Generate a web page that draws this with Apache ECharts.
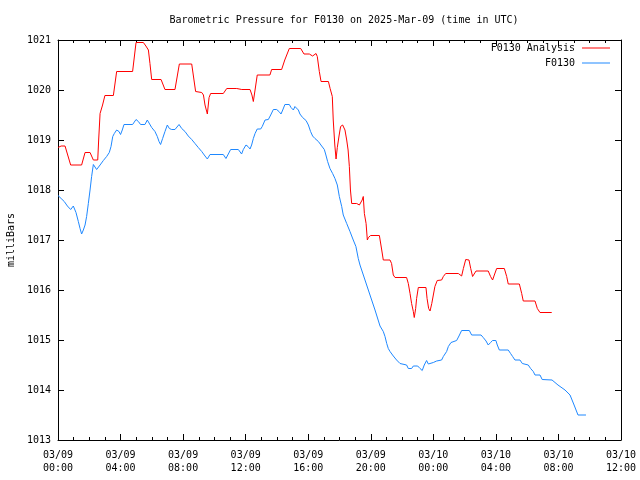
<!DOCTYPE html>
<html>
<head>
<meta charset="utf-8">
<script src="https://cdn.jsdelivr.net/npm/echarts@6/dist/echarts.min.js"></script>
<style>html,body{margin:0;padding:0;background:#fff}#c{width:640px;height:480px}</style>
</head>
<body>
<div id="c"></div>
<script>
// Hours since 2025-03-09 00:00 UTC
var xTickLabels = ['03/09\n00:00','03/09\n04:00','03/09\n08:00','03/09\n12:00','03/09\n16:00','03/09\n20:00','03/10\n00:00','03/10\n04:00','03/10\n08:00','03/10\n12:00'];

var analysisHours = [0,0.2,0.45,0.81,1.51,1.73,2.05,2.26,2.54,2.6,2.69,2.85,3.0,3.54,3.75,4.77,4.99,5.46,5.62,5.78,5.88,5.99,6.59,6.84,7.48,7.76,8.55,8.8,9.19,9.3,9.4,9.55,9.66,9.76,10.57,10.79,11.43,11.53,11.75,12.28,12.4,12.49,12.6,12.74,13.55,13.66,14.3,14.5,14.79,15.52,15.73,16.07,16.28,16.5,16.58,16.71,16.82,17.29,17.4,17.54,17.6,17.7,17.78,17.86,17.98,18.07,18.2,18.35,18.46,18.55,18.63,18.7,18.78,19.1,19.27,19.45,19.52,19.59,19.7,19.78,19.85,19.99,20.55,20.59,20.7,20.8,21.23,21.33,21.44,21.55,22.29,22.4,22.51,22.61,22.72,22.78,22.87,22.93,23.04,23.53,23.6,23.7,23.79,23.9,24.0,24.1,24.25,24.53,24.64,24.79,25.6,25.7,25.81,25.92,26.07,26.28,26.39,26.51,26.62,26.73,27.51,27.66,27.79,27.9,28.05,28.54,28.69,28.79,29.5,29.65,29.75,30.5,30.65,30.82,31.57];
var analysisValues = [1018.85,1018.88,1018.88,1018.5,1018.5,1018.75,1018.75,1018.6,1018.6,1019.0,1019.53,1019.7,1019.89,1019.89,1020.37,1020.37,1020.95,1020.95,1020.88,1020.8,1020.53,1020.21,1020.21,1020.01,1020.01,1020.52,1020.52,1019.97,1019.95,1019.9,1019.7,1019.52,1019.85,1019.93,1019.93,1020.03,1020.03,1020.05,1020.01,1020.01,1019.9,1019.77,1020.0,1020.3,1020.3,1020.41,1020.41,1020.6,1020.83,1020.83,1020.72,1020.72,1020.68,1020.73,1020.67,1020.37,1020.17,1020.17,1020.03,1019.87,1019.4,1018.9,1018.62,1018.85,1019.1,1019.27,1019.3,1019.2,1019.0,1018.8,1018.47,1018.0,1017.73,1017.73,1017.7,1017.8,1017.87,1017.53,1017.33,1017.0,1017.05,1017.09,1017.09,1017.05,1016.8,1016.6,1016.6,1016.53,1016.3,1016.25,1016.25,1016.13,1015.93,1015.73,1015.57,1015.45,1015.63,1015.83,1016.05,1016.05,1015.83,1015.63,1015.58,1015.73,1015.9,1016.07,1016.19,1016.2,1016.27,1016.33,1016.33,1016.3,1016.28,1016.43,1016.61,1016.6,1016.43,1016.27,1016.31,1016.38,1016.38,1016.27,1016.2,1016.3,1016.43,1016.43,1016.27,1016.12,1016.12,1015.93,1015.78,1015.78,1015.63,1015.55,1015.55];

var obsHours = [0,0.2,0.4,0.6,0.81,0.98,1.04,1.15,1.3,1.41,1.51,1.62,1.73,1.83,1.94,2.05,2.15,2.26,2.36,2.47,2.69,2.9,3.11,3.28,3.39,3.5,3.6,3.75,3.9,4.0,4.11,4.22,4.77,4.99,5.14,5.28,5.56,5.71,5.82,5.99,6.2,6.35,6.46,6.56,6.69,6.84,6.99,7.12,7.27,7.48,7.74,7.91,8.12,8.33,8.55,8.76,8.97,9.19,9.4,9.55,9.72,10.57,10.74,10.89,11.04,11.53,11.64,11.74,11.85,12.02,12.15,12.28,12.38,12.49,12.6,12.74,12.96,13.06,13.24,13.45,13.6,13.77,13.98,14.13,14.26,14.37,14.51,14.79,14.9,15.05,15.15,15.22,15.37,15.47,15.64,15.86,16.01,16.15,16.28,16.43,16.65,16.86,17.03,17.13,17.24,17.39,17.56,17.71,17.86,17.99,18.14,18.24,18.46,18.67,18.88,19.05,19.2,19.31,19.63,19.95,20.27,20.59,20.8,20.91,21.02,21.12,21.23,21.44,21.65,21.87,21.97,22.29,22.4,22.51,22.61,22.72,23.0,23.15,23.29,23.42,23.57,23.68,23.79,24.0,24.21,24.53,24.64,24.85,24.96,25.13,25.23,25.49,25.64,25.81,26.3,26.45,27.05,27.19,27.37,27.51,27.66,27.79,28.0,28.09,28.22,28.79,28.94,29.07,29.22,29.54,29.69,29.8,30.07,30.22,30.39,30.5,30.82,30.96,31.59,31.97,32.42,32.74,33.0,33.25,33.76];
var obsValues = [1017.89,1017.83,1017.77,1017.68,1017.61,1017.68,1017.7,1017.55,1017.37,1017.23,1017.12,1017.2,1017.3,1017.47,1017.73,1018.0,1018.27,1018.51,1018.48,1018.41,1018.5,1018.59,1018.67,1018.75,1018.87,1019.07,1019.13,1019.2,1019.17,1019.11,1019.2,1019.31,1019.31,1019.41,1019.37,1019.31,1019.31,1019.4,1019.4,1019.25,1019.17,1019.07,1018.97,1018.91,1019.03,1019.17,1019.3,1019.23,1019.21,1019.21,1019.31,1019.23,1019.17,1019.08,1019.01,1018.93,1018.85,1018.77,1018.68,1018.62,1018.71,1018.71,1018.63,1018.72,1018.81,1018.81,1018.77,1018.72,1018.81,1018.9,1018.87,1018.82,1018.9,1019.03,1019.13,1019.22,1019.22,1019.27,1019.4,1019.41,1019.5,1019.61,1019.61,1019.57,1019.52,1019.6,1019.71,1019.71,1019.65,1019.6,1019.67,1019.71,1019.6,1019.52,1019.45,1019.39,1019.3,1019.17,1019.08,1019.03,1018.97,1018.88,1018.81,1018.7,1018.57,1018.43,1018.33,1018.23,1018.1,1017.87,1017.67,1017.5,1017.33,1017.17,1017.0,1016.87,1016.63,1016.5,1016.2,1015.9,1015.6,1015.28,1015.17,1015.07,1014.93,1014.83,1014.77,1014.68,1014.6,1014.53,1014.5,1014.5,1014.43,1014.39,1014.43,1014.48,1014.48,1014.43,1014.39,1014.5,1014.59,1014.52,1014.5,1014.55,1014.58,1014.6,1014.67,1014.77,1014.87,1014.95,1014.99,1014.99,1015.08,1015.19,1015.19,1015.1,1015.1,1015.05,1014.98,1014.9,1014.95,1014.99,1014.99,1014.9,1014.8,1014.8,1014.73,1014.67,1014.6,1014.6,1014.53,1014.5,1014.5,1014.43,1014.37,1014.3,1014.3,1014.21,1014.2,1014.1,1014.0,1013.9,1013.7,1013.5,1013.5];

var FONT = 'DejaVu Sans Mono';
function pairs(xs, ys){ return xs.map(function(x,i){ return [x, ys[i]]; }); }

var chart = echarts.init(document.getElementById('c'), null, {renderer:'canvas'});
var axisLineStyle = {color:'#000', width:1};
var xCommon = {
  type:'value', min:0, max:36, interval:4,
  axisLine:{show:true, onZero:false, lineStyle:axisLineStyle},
  axisTick:{show:true, inside:true, length:6, lineStyle:axisLineStyle},
  minorTick:{show:true, splitNumber:4, length:3, lineStyle:{color:'#000', width:1}},
  splitLine:{show:false}
};
var yCommon = {
  type:'value', min:1013, max:1021, interval:1,
  axisLine:{show:true, onZero:false, lineStyle:axisLineStyle},
  axisTick:{show:true, inside:true, length:6, lineStyle:axisLineStyle},
  splitLine:{show:false}
};
chart.setOption({
  animation:false,
  backgroundColor:'#fff',
  title:{
    text:'Barometric Pressure for F0130 on 2025-Mar-09 (time in UTC)',
    left:339, top:10, textAlign:'center',
    textStyle:{fontFamily:FONT, fontSize:10, fontWeight:'normal', color:'#000'}
  },
  legend:[
    {data:['F0130 Analysis'], right:30, top:43, align:'right', orient:'vertical',
     itemWidth:28, itemHeight:1, itemGap:4, icon:'rect', padding:0,
     textStyle:{fontFamily:FONT, fontSize:10, color:'#000', padding:[0,2,0,0]}},
    {data:['F0130'], right:30, top:58, align:'right', orient:'vertical',
     itemWidth:28, itemHeight:1, itemGap:4, icon:'rect', padding:0,
     textStyle:{fontFamily:FONT, fontSize:10, color:'#000', padding:[0,2,0,0]}}
  ],
  grid:{left:58, right:19, top:40, bottom:40, containLabel:false, outerBoundsMode:'none'},
  xAxis:[
    Object.assign({}, xCommon, {position:'bottom',
      axisLabel:{show:true, margin:9, fontFamily:FONT, fontSize:10, color:'#000', lineHeight:13,
        formatter:function(v){ return xTickLabels[Math.round(v/4)] || ''; }}}),
    Object.assign({}, xCommon, {position:'top', axisLabel:{show:false}})
  ],
  yAxis:[
    Object.assign({}, yCommon, {position:'left', name:'milliBars', nameLocation:'middle', nameGap:42,
      nameRotate:90,
      nameTextStyle:{fontFamily:FONT, fontSize:10, color:'#000'},
      axisLabel:{show:true, margin:7, fontFamily:FONT, fontSize:10, color:'#000',
        formatter:function(v){ return String(v); }}}),
    Object.assign({}, yCommon, {position:'right', axisLabel:{show:false}})
  ],
  series:[
    {name:'F0130 Analysis', type:'line', xAxisIndex:0, yAxisIndex:0, showSymbol:false, symbol:'none',
     color:'#ff0000', lineStyle:{color:'#ff0000', width:1}, data:pairs(analysisHours, analysisValues)},
    {name:'F0130', type:'line', xAxisIndex:0, yAxisIndex:0, showSymbol:false, symbol:'none',
     color:'#1e88ff', lineStyle:{color:'#1e88ff', width:1}, data:pairs(obsHours, obsValues)}
  ]
});
</script>
</body>
</html>
